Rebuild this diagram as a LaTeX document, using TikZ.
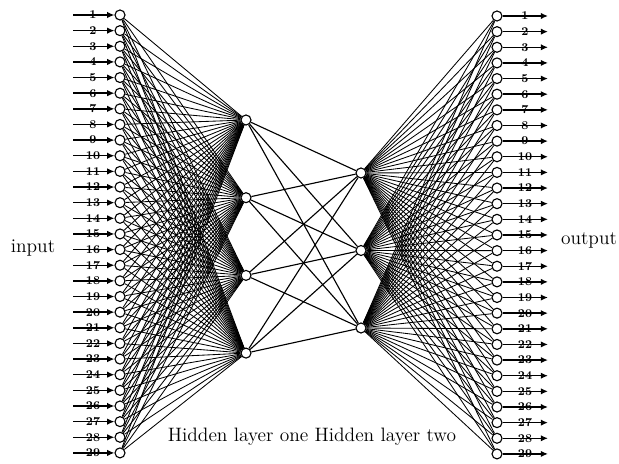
\documentclass[tikz,border=0pt]{standalone}
\usetikzlibrary{arrows.meta}

\begin{document}
\begin{tikzpicture}[x=0.025cm, y=-0.025cm,
    neuron/.style={draw, circle, fill=white, line width=0.8pt, inner sep=0pt, minimum size=0.25cm},
    link/.style={line width=0.6pt},
    io/.style={line width=1pt, -{Latex[length=1.8mm, width=1.6mm]}},
    num/.style={font=\fontsize{8.5}{8.5}\selectfont\bfseries, inner sep=0pt},
    caption/.style={font=\fontsize{13.8}{16}\selectfont, inner sep=0pt}
]
\useasboundingbox (0,0) rectangle (619,464);

% Input and output layers
\foreach \i in {1,...,29} {
  \pgfmathsetmacro{\yy}{15+(\i-1)*15.64}
  \node[neuron] (in\i) at (120,\yy) {};
  \coordinate (inS\i) at (73,\yy);
  \draw[io] (inS\i) -- (in\i);
  \node[num] (inN\i) at (93,\yy) {\i};
  \node[neuron] (out\i) at (497,\yy+1) {};
  \coordinate (outE\i) at (548,\yy+1);
  \draw[io] (out\i) -- (outE\i);
  \node[num] (outN\i) at (525,\yy+1) {\i};
}

% Hidden layers
\foreach \j in {1,...,4}
  \node[neuron] (ha\j) at (246,{120+(\j-1)*77.7}) {};
\foreach \k in {1,...,3}
  \node[neuron] (hb\k) at (361,{173+(\k-1)*77.5}) {};

% Connections
\foreach \i in {1,...,29} {
  \foreach \j in {1,...,4}
    \draw[link] (in\i) -- (ha\j);
  \foreach \k in {1,...,3}
    \draw[link] (hb\k) -- (out\i);
}
\foreach \j in {1,...,4}
  \foreach \k in {1,...,3}
    \draw[link, line width=0.8pt] (ha\j) -- (hb\k);

% Labels
\node[caption] (inlab) at (33,248) {input};
\node[caption] (outlab) at (589,240) {output};
\node[caption] (hidlab) at (312,437) {Hidden layer one Hidden layer two};

\end{tikzpicture}
\end{document}
